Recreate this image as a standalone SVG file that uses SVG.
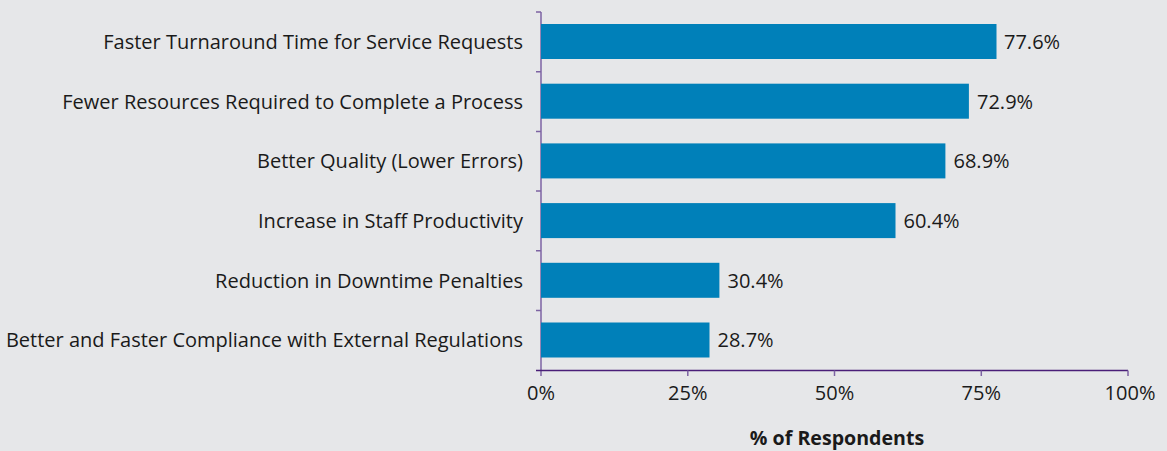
<svg xmlns="http://www.w3.org/2000/svg" width="1167" height="451" viewBox="0 0 1167 451">
<style>
.lbl{font-family:"Open Sans","Liberation Sans",sans-serif;font-size:20px;fill:#1a1a1a}
.cat{text-anchor:end}
.tick{text-anchor:middle}
.bar{fill:#0080b9}
.ax{stroke:#4a1f78;stroke-width:1.5;fill:none}
.tk{stroke:#7d63a3;stroke-width:1.5;fill:none}
.title{font-family:"Open Sans","Liberation Sans",sans-serif;font-size:19.6px;font-weight:bold;fill:#1a1a1a;text-anchor:middle}
</style>
<rect width="1167" height="451" fill="#e6e7e9"/>
<g id="axes">
<line class="tk" x1="541" y1="12" x2="541" y2="376"/>
<line class="ax" x1="536" y1="370.5" x2="1128" y2="370.5"/>
<path class="tk" d="M536 12H541M536 71.7H541M536 131.4H541M536 191.1H541M536 250.8H541M536 310.5H541"/>
<path class="tk" d="M687.8 370.5V376M834.5 370.5V376M981.3 370.5V376M1128 370.5V376"/>
<text class="lbl tick" x="541" y="400">0%</text>
<text class="lbl tick" x="687.8" y="400">25%</text>
<text class="lbl tick" x="834.5" y="400">50%</text>
<text class="lbl tick" x="981.3" y="400">75%</text>
<text class="lbl tick" x="1130" y="400">100%</text>
<text class="title" x="837" y="445">% of Respondents</text>
</g>
<g id="bar1">
<rect class="bar" x="541" y="24" width="455.5" height="35"/>
<text class="lbl cat" x="523" y="48.8">Faster Turnaround Time for Service Requests</text>
<text class="lbl" x="1004" y="48.8">77.6%</text>
</g>
<g id="bar2">
<rect class="bar" x="541" y="83.7" width="427.9" height="35"/>
<text class="lbl cat" x="523" y="108.5">Fewer Resources Required to Complete a Process</text>
<text class="lbl" x="977" y="108.5">72.9%</text>
</g>
<g id="bar3">
<rect class="bar" x="541" y="143.4" width="404.4" height="35"/>
<text class="lbl cat" x="523" y="168.2">Better Quality (Lower Errors)</text>
<text class="lbl" x="953.5" y="168.2">68.9%</text>
</g>
<g id="bar4">
<rect class="bar" x="541" y="203.1" width="354.5" height="35"/>
<text class="lbl cat" x="523" y="227.9">Increase in Staff Productivity</text>
<text class="lbl" x="903.5" y="227.9">60.4%</text>
</g>
<g id="bar5">
<rect class="bar" x="541" y="262.8" width="178.4" height="35"/>
<text class="lbl cat" x="523" y="287.6">Reduction in Downtime Penalties</text>
<text class="lbl" x="727.5" y="287.6">30.4%</text>
</g>
<g id="bar6">
<rect class="bar" x="541" y="322.5" width="168.5" height="35"/>
<text class="lbl cat" x="523" y="347.3">Better and Faster Compliance with External Regulations</text>
<text class="lbl" x="717.5" y="347.3">28.7%</text>
</g>
</svg>
